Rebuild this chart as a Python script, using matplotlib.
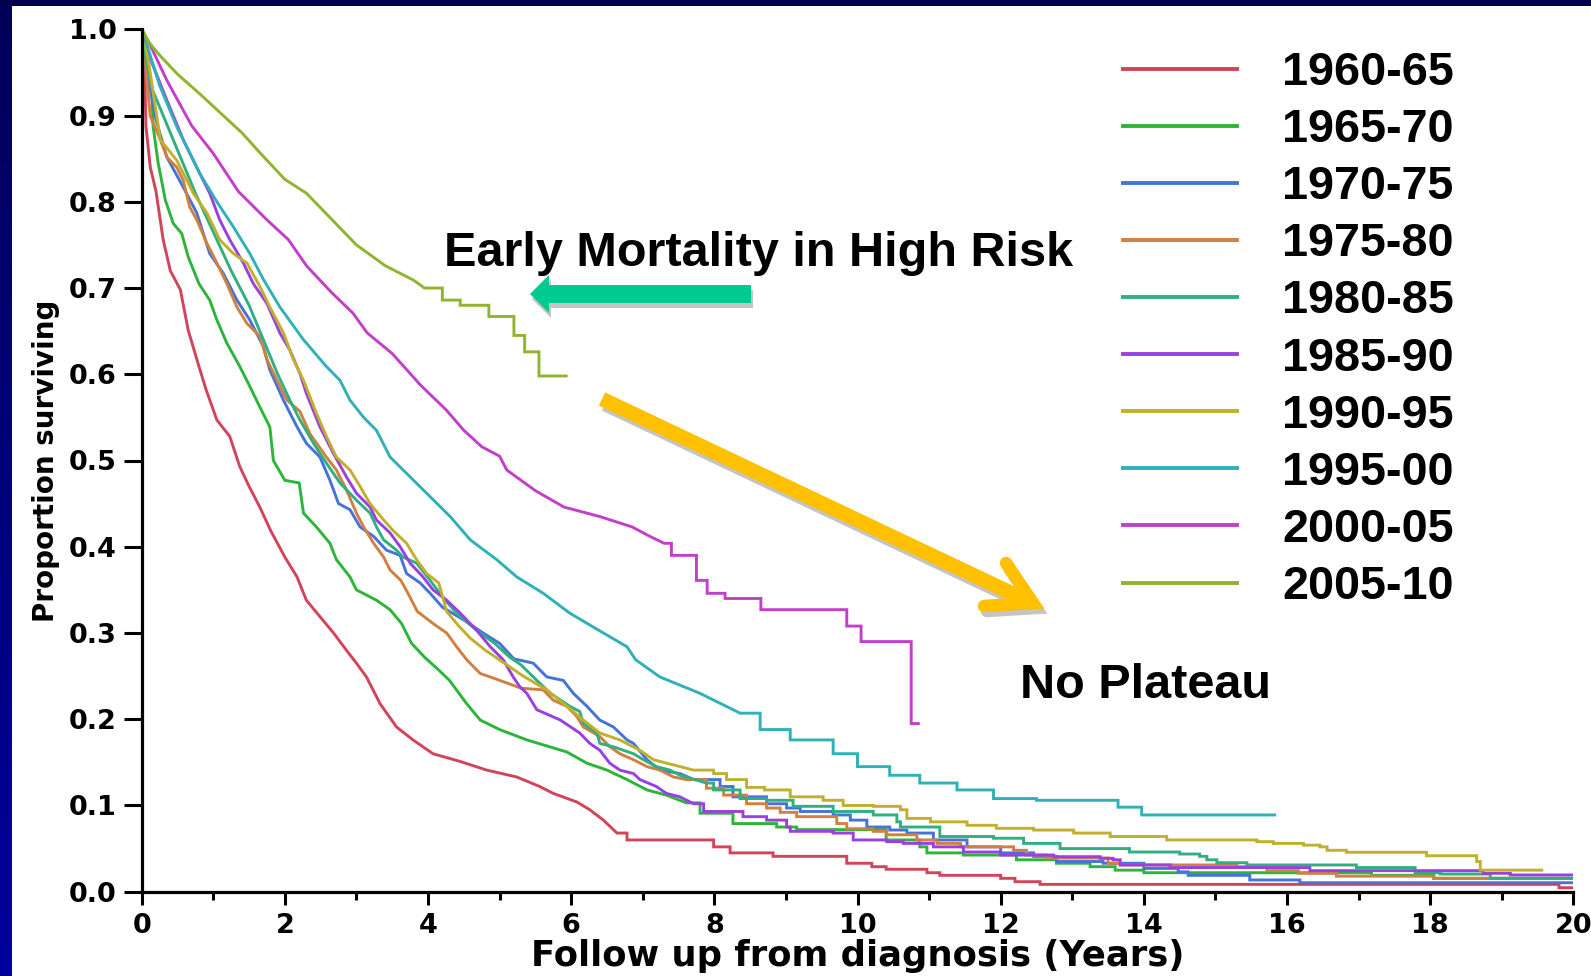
import numpy as np
import matplotlib
matplotlib.use("Agg")
import matplotlib.pyplot as plt
from matplotlib.lines import Line2D
from matplotlib.patches import Polygon, Rectangle
from matplotlib.transforms import IdentityTransform
from matplotlib.colors import LinearSegmentedColormap

# ---------------- data ----------------
cohorts = ["1960-65", "1965-70", "1970-75", "1975-80", "1980-85",
           "1985-90", "1990-95", "1995-00", "2000-05", "2005-10"]
colors = ["#d2445a", "#2db53a", "#4673d8", "#d08040", "#30b080",
          "#9a40e0", "#c0b02e", "#30b0b8", "#c240c8", "#8fb42e"]

km_1960_65 = [(0, 1.0), (0.04, 0.956), (0.06, 0.887), (0.12, 0.84), (0.2, 0.812), (0.3, 0.756),
              (0.4, 0.72), (0.54, 0.698), (0.65, 0.651), (0.8, 0.609), (0.9, 0.582), (1.05, 0.547),
              (1.23, 0.528), (1.37, 0.493), (1.5, 0.47), (1.65, 0.446), (1.8, 0.419), (2.0, 0.388),
              (2.17, 0.365), (2.3, 0.338), (2.49, 0.319), (2.68, 0.30), (2.86, 0.28), (3.0, 0.265),
              (3.14, 0.249), (3.33, 0.218), (3.56, 0.191), (3.79, 0.176), (4.07, 0.16), (4.45, 0.151),
              (4.82, 0.141), (5.24, 0.133), (5.56, 0.122), (5.75, 0.114), (6.08, 0.104), (6.26, 0.095),
              (6.45, 0.083), (6.64, 0.068), (6.78, 0.06), (7.99, 0.052), (8.22, 0.045), (8.82, 0.041),
              (9.85, 0.033), (10.2, 0.029), (10.4, 0.026), (10.97, 0.022), (11.15, 0.019), (12.0, 0.0155),
              (12.2, 0.0116), (12.55, 0.0085), (19.8, 0.0046), (20.0, 0.0046)]

km_1965_70 = [(0, 1.0), (0.07, 0.957), (0.14, 0.93), (0.16, 0.887), (0.23, 0.845), (0.33, 0.802),
              (0.44, 0.775), (0.56, 0.763), (0.65, 0.736), (0.8, 0.705), (0.95, 0.686), (1.05, 0.663),
              (1.19, 0.636), (1.37, 0.609), (1.51, 0.586), (1.65, 0.562), (1.79, 0.539), (1.84, 0.50),
              (2.0, 0.477), (2.2, 0.474), (2.26, 0.439), (2.44, 0.423), (2.63, 0.404), (2.72, 0.385),
              (2.91, 0.365), (3.0, 0.35), (3.28, 0.338), (3.47, 0.327), (3.63, 0.311), (3.77, 0.288),
              (3.95, 0.272), (4.15, 0.257), (4.3, 0.245), (4.54, 0.218), (4.73, 0.199), (5.0, 0.188),
              (5.38, 0.176), (5.94, 0.162), (6.22, 0.149), (6.5, 0.141), (6.78, 0.13), (7.06, 0.118),
              (7.33, 0.112), (7.61, 0.103), (7.8, 0.091), (8.26, 0.079), (8.87, 0.075), (9.15, 0.072),
              (10.4, 0.06), (10.87, 0.052), (10.97, 0.045), (11.48, 0.0425), (12.22, 0.037),
              (12.78, 0.033), (13.25, 0.029), (13.6, 0.025), (14.0, 0.022), (17.18, 0.019),
              (18.05, 0.0155), (20.0, 0.0155)]

km_1970_75 = [(0, 1.0), (0.04, 0.957), (0.12, 0.93), (0.2, 0.895), (0.35, 0.852), (0.58, 0.817),
              (0.77, 0.787), (0.95, 0.74), (1.14, 0.717), (1.33, 0.686), (1.51, 0.663), (1.7, 0.632),
              (1.79, 0.605), (1.98, 0.57), (2.17, 0.539), (2.3, 0.52), (2.49, 0.504), (2.63, 0.477),
              (2.75, 0.45), (2.91, 0.443), (3.05, 0.423), (3.24, 0.412), (3.42, 0.396), (3.61, 0.39),
              (3.7, 0.369), (3.89, 0.358), (4.03, 0.346), (4.2, 0.33), (4.5, 0.315), (4.77, 0.30),
              (5.0, 0.288), (5.2, 0.27), (5.47, 0.265), (5.66, 0.249), (5.89, 0.245), (6.03, 0.23),
              (6.22, 0.215), (6.4, 0.199), (6.59, 0.191), (6.78, 0.176), (6.87, 0.172), (7.06, 0.153),
              (7.24, 0.141), (7.52, 0.137), (7.71, 0.13), (8.08, 0.122), (8.26, 0.11), (8.73, 0.102),
              (9.01, 0.097), (9.2, 0.093), (9.66, 0.089), (9.9, 0.083), (10.13, 0.075), (10.45, 0.0715),
              (10.69, 0.068), (11.06, 0.06), (11.53, 0.052), (12.0, 0.045), (12.46, 0.041),
              (12.78, 0.035), (13.43, 0.033), (14.0, 0.027), (14.48, 0.023), (14.62, 0.019),
              (15.48, 0.0136), (16.18, 0.0104), (20.0, 0.0104)]

km_1975_80 = [(0, 1.0), (0.05, 0.96), (0.12, 0.899), (0.26, 0.872), (0.35, 0.852), (0.49, 0.84),
              (0.58, 0.825), (0.67, 0.794), (0.77, 0.779), (0.91, 0.752), (1.05, 0.729), (1.19, 0.705),
              (1.33, 0.678), (1.47, 0.659), (1.65, 0.644), (1.75, 0.617), (1.89, 0.593), (2.03, 0.57),
              (2.21, 0.557), (2.35, 0.531), (2.58, 0.504), (2.72, 0.489), (2.86, 0.466), (3.0, 0.439),
              (3.1, 0.423), (3.24, 0.404), (3.38, 0.388), (3.47, 0.373), (3.62, 0.361), (3.72, 0.346),
              (3.85, 0.325), (4.07, 0.311), (4.26, 0.30), (4.4, 0.284), (4.54, 0.269), (4.73, 0.253),
              (4.87, 0.249), (5.3, 0.236), (5.61, 0.234), (5.75, 0.222), (5.94, 0.215), (6.08, 0.203),
              (6.17, 0.191), (6.4, 0.18), (6.54, 0.168), (6.68, 0.16), (6.87, 0.153), (7.06, 0.145),
              (7.24, 0.141), (7.43, 0.133), (7.61, 0.13), (7.89, 0.12), (8.13, 0.112), (8.45, 0.102),
              (8.73, 0.097), (8.92, 0.092), (9.15, 0.087), (9.71, 0.079), (9.85, 0.073), (10.22, 0.07),
              (10.41, 0.066), (10.83, 0.06), (11.11, 0.056), (11.44, 0.052), (12.18, 0.048),
              (12.36, 0.0425), (12.64, 0.039), (13.5, 0.033), (13.67, 0.031), (15.3, 0.029),
              (15.72, 0.0244), (16.16, 0.0213), (16.69, 0.018), (18.05, 0.0155), (20.0, 0.0155)]

km_1980_85 = [(0, 1.0), (0.05, 0.97), (0.15, 0.93), (0.3, 0.9), (0.5, 0.86), (0.75, 0.81),
              (1.0, 0.765), (1.25, 0.72), (1.5, 0.68), (1.75, 0.63), (1.9, 0.6), (2.07, 0.57),
              (2.21, 0.547), (2.4, 0.52), (2.58, 0.497), (2.77, 0.474), (3.0, 0.454), (3.19, 0.439),
              (3.28, 0.423), (3.38, 0.408), (3.56, 0.396), (3.65, 0.388), (3.84, 0.381), (4.03, 0.361),
              (4.2, 0.342), (4.4, 0.323), (4.68, 0.303), (4.93, 0.288), (5.14, 0.272), (5.3, 0.263),
              (5.52, 0.245), (5.71, 0.23), (5.98, 0.215), (6.12, 0.209), (6.17, 0.195), (6.36, 0.184),
              (6.4, 0.172), (6.59, 0.168), (6.87, 0.16), (7.01, 0.153), (7.19, 0.145), (7.38, 0.141),
              (7.52, 0.135), (7.89, 0.126), (7.99, 0.118), (8.36, 0.108), (8.73, 0.106), (9.1, 0.099),
              (9.66, 0.093), (10.22, 0.089), (10.55, 0.081), (10.6, 0.075), (11.15, 0.064),
              (11.9, 0.062), (12.32, 0.056), (12.83, 0.05), (13.8, 0.046), (14.5, 0.0437),
              (14.78, 0.041), (14.88, 0.037), (15.02, 0.0336), (15.44, 0.031), (16.97, 0.028),
              (17.79, 0.022), (18.14, 0.0205), (18.84, 0.0155), (20.0, 0.0155)]

km_1985_90 = [(0, 1.0), (0.1, 0.97), (0.35, 0.918), (0.58, 0.872), (0.81, 0.833), (0.95, 0.81),
              (1.09, 0.779), (1.23, 0.756), (1.42, 0.729), (1.56, 0.705), (1.75, 0.682), (1.93, 0.648),
              (2.07, 0.628), (2.21, 0.601), (2.3, 0.578), (2.49, 0.539), (2.68, 0.508), (2.86, 0.481),
              (3.0, 0.462), (3.19, 0.446), (3.28, 0.431), (3.47, 0.416), (3.61, 0.40), (3.75, 0.381),
              (3.93, 0.365), (4.07, 0.35), (4.26, 0.338), (4.45, 0.323), (4.68, 0.303), (4.87, 0.284),
              (5.05, 0.269), (5.19, 0.249), (5.28, 0.238), (5.38, 0.23), (5.52, 0.211), (5.85, 0.199),
              (6.12, 0.184), (6.26, 0.172), (6.4, 0.164), (6.54, 0.149), (6.68, 0.141), (6.87, 0.137),
              (6.96, 0.13), (7.19, 0.122), (7.33, 0.114), (7.52, 0.11), (7.71, 0.102), (7.85, 0.093),
              (8.4, 0.087), (8.73, 0.083), (9.01, 0.075), (9.06, 0.07), (9.66, 0.068), (9.94, 0.06),
              (10.41, 0.058), (10.64, 0.056), (11.06, 0.052), (11.48, 0.046), (12.0, 0.0425),
              (12.74, 0.0406), (13.39, 0.0387), (13.57, 0.037), (13.67, 0.031), (14.37, 0.028),
              (16.32, 0.0244), (18.74, 0.0213), (19.12, 0.0194), (20.0, 0.0194)]

km_1990_95 = [(0, 1.0), (0.1, 0.96), (0.26, 0.872), (0.49, 0.848), (0.72, 0.81), (0.91, 0.787),
              (1.09, 0.756), (1.28, 0.74), (1.47, 0.729), (1.65, 0.702), (1.79, 0.678), (1.98, 0.648),
              (2.12, 0.617), (2.26, 0.593), (2.44, 0.555), (2.58, 0.528), (2.72, 0.504), (2.91, 0.489),
              (3.05, 0.47), (3.19, 0.45), (3.38, 0.431), (3.51, 0.419), (3.7, 0.404), (3.84, 0.385),
              (3.98, 0.369), (4.15, 0.358), (4.26, 0.325), (4.42, 0.309), (4.59, 0.294), (4.8, 0.28),
              (5.05, 0.266), (5.33, 0.25), (5.66, 0.234), (5.94, 0.215), (6.17, 0.199), (6.4, 0.184),
              (6.68, 0.176), (6.96, 0.164), (7.15, 0.153), (7.43, 0.147), (7.71, 0.141), (7.99, 0.137),
              (8.17, 0.13), (8.45, 0.121), (8.7, 0.118), (9.06, 0.11), (9.52, 0.106), (9.8, 0.1),
              (10.22, 0.099), (10.6, 0.095), (10.69, 0.085), (11.02, 0.081), (11.53, 0.077),
              (11.94, 0.0735), (12.46, 0.0715), (13.02, 0.068), (13.53, 0.064), (14.32, 0.06),
              (15.58, 0.058), (15.81, 0.056), (16.23, 0.054), (16.46, 0.052), (16.56, 0.048),
              (16.83, 0.0457), (17.95, 0.0417), (18.65, 0.035), (18.7, 0.025), (19.56, 0.025)]

km_1995_00 = [(0, 1.0), (0.1, 0.975), (0.25, 0.935), (0.49, 0.887), (0.81, 0.833), (1.05, 0.80),
              (1.28, 0.771), (1.51, 0.74), (1.7, 0.71), (1.93, 0.678), (2.26, 0.64), (2.58, 0.609),
              (2.77, 0.593), (2.91, 0.57), (3.1, 0.55), (3.28, 0.535), (3.47, 0.504), (3.75, 0.481),
              (4.03, 0.458), (4.31, 0.435), (4.59, 0.408), (4.96, 0.385), (5.24, 0.365), (5.61, 0.346),
              (5.98, 0.323), (6.45, 0.30), (6.78, 0.284), (6.9, 0.269), (7.24, 0.249), (7.8, 0.23),
              (8.36, 0.207), (8.64, 0.188), (9.06, 0.176), (9.66, 0.16), (10.0, 0.145), (10.45, 0.135),
              (10.87, 0.126), (11.39, 0.118), (11.9, 0.108), (12.5, 0.106), (13.64, 0.098),
              (13.97, 0.089), (15.83, 0.089)]

km_2000_05 = [(0, 1.0), (0.1, 0.985), (0.35, 0.941), (0.7, 0.888), (1.0, 0.856), (1.35, 0.812),
              (1.75, 0.779), (2.05, 0.756), (2.3, 0.726), (2.65, 0.695), (2.95, 0.671), (3.15, 0.648),
              (3.5, 0.624), (3.9, 0.587), (4.25, 0.559), (4.5, 0.535), (4.75, 0.516), (5.0, 0.505),
              (5.1, 0.489), (5.5, 0.465), (5.9, 0.446), (6.4, 0.435), (6.85, 0.423), (7.1, 0.412),
              (7.3, 0.404), (7.4, 0.39), (7.75, 0.361), (7.9, 0.346), (8.15, 0.34), (8.65, 0.327),
              (9.85, 0.308), (10.05, 0.29), (10.75, 0.195), (10.85, 0.195)]

km_2005_10 = [(0, 1.0), (0.1, 0.985), (0.25, 0.97), (0.5, 0.948), (0.8, 0.926), (1.1, 0.903),
              (1.4, 0.88), (1.65, 0.857), (2.0, 0.826), (2.3, 0.81), (2.65, 0.78), (3.0, 0.75),
              (3.4, 0.726), (3.8, 0.709), (3.95, 0.70), (4.2, 0.686), (4.45, 0.68), (4.85, 0.667),
              (5.2, 0.645), (5.35, 0.626), (5.55, 0.598), (5.93, 0.598)]

series = [km_1960_65, km_1965_70, km_1970_75, km_1975_80, km_1980_85,
          km_1985_90, km_1990_95, km_1995_00, km_2000_05, km_2005_10]
# follow-up time after which the read points are separated by visible flat steps
step_after = [6.6, 7.5, 7.6, 7.6, 7.6, 7.6, 7.6, 8.0, 7.3, 3.9]

x_ticks = [0, 2, 4, 6, 8, 10, 12, 14, 16, 18, 20]
x_minor = [1, 3, 5, 7, 9, 11, 13, 15, 17, 19]
y_ticks = [0.0, 0.1, 0.2, 0.3, 0.4, 0.5, 0.6, 0.7, 0.8, 0.9, 1.0]

x_label = "Follow up from diagnosis (Years)"
y_label = "Proportion surviving"
note_early = "Early Mortality in High Risk"
note_plateau = "No Plateau"

# ---------------- figure ----------------
W, H = 1591, 976
fig = plt.figure(figsize=(W / 100, H / 100), dpi=100)
fig.patch.set_facecolor("white")

def px(x, y):
    """image pixel (from top-left) -> display coords"""
    return (x, H - y)

ax = fig.add_axes([141.7 / W, (H - 891.7) / H, (1573.3 - 141.7) / W, (891.7 - 29.3) / H])
ax.set_facecolor("white")

def km_path(pts, t_step):
    xs, ys = [], []
    for i, (t, s) in enumerate(pts):
        xs.append(t)
        ys.append(s)
        if i + 1 < len(pts) and t >= t_step:
            xs.append(pts[i + 1][0])
            ys.append(s)
    return xs, ys

for name, col, pts, ts in zip(cohorts, colors, series, step_after):
    xs, ys = km_path(pts, ts)
    ax.plot(xs, ys, color=col, lw=2.1, label=name, solid_joinstyle="miter")

ax.set_xlim(0, 20)
ax.set_ylim(0, 1.0)
for side in ("top", "right"):
    ax.spines[side].set_visible(False)
for side in ("left", "bottom"):
    ax.spines[side].set_linewidth(2.3)
    ax.spines[side].set_color("black")

tick_font = dict(family="DejaVu Sans", weight="bold", size=19.5)
ax.set_xticks(x_ticks)
ax.set_xticklabels([str(v) for v in x_ticks], **tick_font)
ax.set_xticks(x_minor, minor=True)
ax.set_yticks(y_ticks)
ax.set_yticklabels([f"{v:.1f}" for v in y_ticks], **tick_font)
ax.tick_params(axis="x", which="major", direction="out", length=9.5, width=2.2, pad=6)
ax.tick_params(axis="x", which="minor", direction="out", length=6, width=2.2)
ax.tick_params(axis="y", which="major", direction="out", length=13, width=2.2, pad=5)

ax.set_xlabel(x_label, family="DejaVu Sans", weight="bold", size=25.5, labelpad=0)
ax.set_ylabel(y_label, family="DejaVu Sans", weight="bold", size=20, labelpad=6)

leg = ax.legend(loc="upper left", bbox_to_anchor=(1123 / W, 1 - 51 / H),
                bbox_transform=fig.transFigure, frameon=False,
                prop=dict(family="Liberation Sans", weight="bold", size=33.7),
                handlelength=2.44, handletextpad=0.96, labelspacing=0.28,
                borderpad=0, borderaxespad=0)
for h in leg.get_lines():
    h.set_linewidth(2.8)

# annotations
ax.text(4.22, 0.7255, note_early, family="Liberation Sans", weight="bold", size=35,
        ha="left", va="baseline", color="black")
ax.text(12.27, 0.2245, note_plateau, family="Liberation Sans", weight="bold", size=35,
        ha="left", va="baseline", color="black")

# green arrow (pixel geometry)
green_poly = [(530, 294), (549, 275), (549, 285), (751, 285), (751, 303), (549, 303), (549, 313)]
shadow = Polygon([px(x + 2, y + 5) for x, y in green_poly], closed=True, transform=IdentityTransform(),
                 facecolor="#c4c4c4", edgecolor="none", zorder=5)
arrow_g = Polygon([px(x, y) for x, y in green_poly], closed=True, transform=IdentityTransform(),
                  facecolor="#00c992", edgecolor="none", zorder=6)
fig.add_artist(shadow)
fig.add_artist(arrow_g)

# yellow arrow
shaft = [(602, 399), (1028, 601)]
chev = [(1006, 563), (1033, 603), (984, 606)]
for off, col, z in (((3, 5), "#c4c4c4", 5), ((0, 0), "#ffc000", 6)):
    xs, ys = zip(*[px(x + off[0], y + off[1]) for x, y in shaft])
    fig.add_artist(Line2D(xs, ys, transform=IdentityTransform(), color=col, lw=10.5,
                          solid_capstyle="butt", zorder=z))
    xs, ys = zip(*[px(x + off[0], y + off[1]) for x, y in chev])
    fig.add_artist(Line2D(xs, ys, transform=IdentityTransform(), color=col, lw=9,
                          solid_capstyle="round", solid_joinstyle="miter", zorder=z))

# slide frame bands
band = fig.add_axes([0, 0, 12 / W, 1])
band.imshow(np.linspace(0, 1, 256)[:, None],
            cmap=LinearSegmentedColormap.from_list("b", ["#00005a", "#00009c"]),
            aspect="auto")
band.axis("off")
fig.add_artist(Rectangle((0, 1 - 6 / H), 1, 6 / H, transform=fig.transFigure,
                         facecolor="#000050", edgecolor="none", zorder=10))

fig.savefig("out.png", dpi=100)
